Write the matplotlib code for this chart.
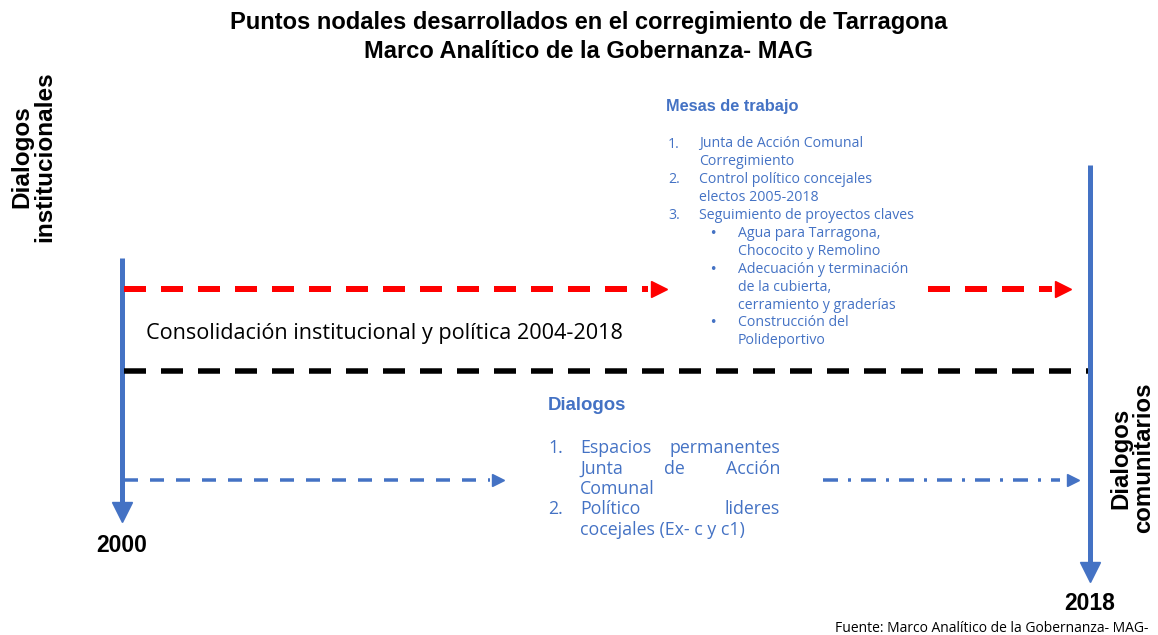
import matplotlib
matplotlib.use("Agg")
import matplotlib.pyplot as plt
from matplotlib import font_manager

# ---------------- data (texts of the diagram) ----------------
title_lines = ["Puntos nodales desarrollados en el corregimiento de Tarragona",
               "Marco Analítico de la Gobernanza- MAG"]
years = ["2000", "2018"]
axis_labels = ["Dialogos\ninstitucionales", "Dialogos\ncomunitarios"]
band_label = "Consolidación institucional y política 2004-2018"
mesas_title = "Mesas de trabajo"
mesas_items = [("1.", ["Junta de Acción Comunal", "Corregimiento"]),
               ("2.", ["Control político concejales", "electos 2005-2018"]),
               ("3.", ["Seguimiento de proyectos claves"])]
mesas_bullets = [["Agua para Tarragona,", "Chococito y Remolino"],
                 ["Adecuación y terminación", "de la cubierta,", "cerramiento y graderías"],
                 ["Construcción del", "Polideportivo"]]
dialogos_title = "Dialogos"
dialogos_items = [("1.", [["Espacios", "permanentes"], ["Junta", "de", "Acción"], ["Comunal"]]),
                  ("2.", [["Político", "lideres"], ["cocejales (Ex- c y c1)"]])]
source = "Fuente: Marco Analítico de la Gobernanza- MAG-"

# ---------------- style ----------------
BLUE = "#4472C4"
RED = "#FF0000"
plt.rcParams["lines.scale_dashes"] = False
names = {f.name for f in font_manager.fontManager.ttflist}
TITLE_FONT = "Liberation Sans Narrow" if "Liberation Sans Narrow" in names else "Liberation Sans"
BODY_FONT = "Open Sans"

W, H = 1158, 635
fig = plt.figure(figsize=(W / 100, H / 100), dpi=100)
ax = fig.add_axes([0, 0, 1, 1])
ax.set_xlim(0, W)
ax.set_ylim(H, 0)
ax.axis("off")

PT = 0.72  # points per pixel at 100 dpi

# title
for txt, y in zip(title_lines, [22, 52]):
    ax.text(589, y, txt, ha="center", va="center", fontsize=17.0,
            fontweight="bold", family=TITLE_FONT, color="black")

# vertical axes (time arrows)
ax.plot([122, 122], [258, 508], color=BLUE, lw=5 * PT, solid_capstyle="butt")
ax.plot([122], [512], marker="v", color=BLUE, ms=14, mec=BLUE)
ax.plot([1090, 1090], [165, 568], color=BLUE, lw=5 * PT, solid_capstyle="butt")
ax.plot([1090], [572], marker="v", color=BLUE, ms=14, mec=BLUE)

# axis labels
ax.text(33, 157, axis_labels[0], rotation=90, ha="center", va="center",
        multialignment="center", fontsize=17.5, fontweight="bold",
        family="Liberation Sans", linespacing=1.0)
ax.text(1132, 458, axis_labels[1], rotation=90, ha="center", va="center",
        multialignment="center", fontsize=17.3, fontweight="bold",
        family="Liberation Sans", linespacing=1.0)
ax.text(122, 546, years[0], ha="center", va="center", fontsize=16.5,
        fontweight="bold", family="Liberation Sans")
ax.text(1090, 603, years[1], ha="center", va="center", fontsize=16.5,
        fontweight="bold", family="Liberation Sans")

# red dashed arrows (institutional)
red_dash = (0, (22 * PT, 15 * PT))
ax.plot([124, 648], [289, 289], color=RED, lw=6 * PT, ls=red_dash, dash_capstyle="butt")
ax.plot([659], [289], marker=">", color=RED, ms=12, mec=RED)
ax.plot([928, 1052], [289, 289], color=RED, lw=6 * PT, ls=red_dash, dash_capstyle="butt")
ax.plot([1063], [289], marker=">", color=RED, ms=12, mec=RED)

# black dashed divider
ax.plot([124, 1088], [371, 371], color="black", lw=5.5 * PT,
        ls=(0, (22 * PT, 15 * PT)), dash_capstyle="butt")

# blue dashed arrows (community)
ax.plot([124, 490], [480, 480], color=BLUE, lw=3.5 * PT,
        ls=(0, (14 * PT, 12 * PT)), dash_capstyle="butt")
ax.plot([498], [480], marker=">", color=BLUE, ms=8, mec=BLUE)
ax.plot([823, 1060], [480, 480], color=BLUE, lw=3.5 * PT,
        ls=(0, (15 * PT, 10 * PT, 3 * PT, 10 * PT)), dash_capstyle="butt")
ax.plot([1073], [480], marker=">", color=BLUE, ms=8, mec=BLUE)

# band label
ax.text(146, 334, band_label, ha="left", va="center", fontsize=15.6,
        family=BODY_FONT, color="black")

# Mesas de trabajo block
ax.text(666, 107, mesas_title, ha="left", va="center", fontsize=11.8,
        fontweight="bold", family="Liberation Sans", color=BLUE)
MS = 10.2
y = 144
step = 17.9
for num, lines in mesas_items:
    ax.text(668, y, num, ha="left", va="center", fontsize=MS, family=BODY_FONT, color=BLUE)
    for ln in lines:
        ax.text(699, y, ln, ha="left", va="center", fontsize=MS, family=BODY_FONT, color=BLUE)
        y += step
for lines in mesas_bullets:
    ax.text(709, y, "•", ha="left", va="center", fontsize=9, family="DejaVu Sans", color=BLUE)
    for ln in lines:
        ax.text(738, y, ln, ha="left", va="center", fontsize=MS, family=BODY_FONT, color=BLUE)
        y += step

# Dialogos block (justified text)
ax.text(548, 405, dialogos_title, ha="left", va="center", fontsize=13.4,
        fontweight="bold", family="Liberation Sans", color=BLUE)
fig.canvas.draw()
renderer = fig.canvas.get_renderer()
inv = ax.transData.inverted()

def text_width(t):
    bb = t.get_window_extent(renderer)
    (x0, _), (x1, _) = inv.transform([[bb.x0, 0], [bb.x1, 0]])
    return abs(x1 - x0)

DS = 12.8
left, right = 580, 780
y = 448
step2 = 20.5
for num, lines in dialogos_items:
    ax.text(548, y, num, ha="left", va="center", fontsize=DS, family=BODY_FONT, color=BLUE)
    for i, words in enumerate(lines):
        last = i == len(lines) - 1
        if last or len(words) == 1:
            ax.text(left, y, " ".join(words), ha="left", va="center", fontsize=DS,
                    family=BODY_FONT, color=BLUE)
        else:
            objs = [ax.text(0, y, w, ha="left", va="center", fontsize=DS,
                            family=BODY_FONT, color=BLUE) for w in words]
            widths = [text_width(o) for o in objs]
            gap = (right - left - sum(widths)) / (len(words) - 1)
            x = left
            for o, wd in zip(objs, widths):
                o.set_x(x)
                x += wd + gap
        y += step2

# source
ax.text(1148, 628, source, ha="right", va="center", fontsize=10,
        family=BODY_FONT, color="black")

fig.savefig("out.png", dpi=100)
